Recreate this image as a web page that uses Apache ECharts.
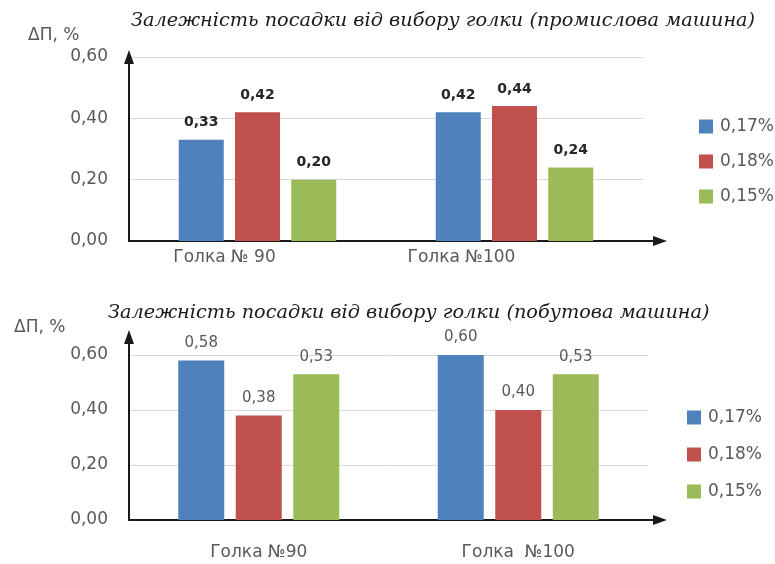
<!DOCTYPE html>
<html><head><meta charset="utf-8">
<script src="https://cdn.jsdelivr.net/npm/echarts@6/dist/echarts.min.js"></script>
<style>html,body{margin:0;padding:0;background:#fff}#c{width:775px;height:564px}</style>
</head><body><div id="c"></div>
<script>
const titleTop = 'Залежність посадки від вибору голки (промислова машина)';
const titleBottom = 'Залежність посадки від вибору голки (побутова машина)';
const yName = 'ΔП, %';
const categoriesTop = ['Голка № 90', 'Голка №100'];
const categoriesBottom = ['Голка №90', 'Голка  №100'];
const seriesNames = ['0,17%', '0,18%', '0,15%'];
const topS1 = [0.33, 0.42];
const topS2 = [0.42, 0.44];
const topS3 = [0.20, 0.24];
const botS1 = [0.58, 0.60];
const botS2 = [0.38, 0.40];
const botS3 = [0.53, 0.53];
const yMin = 0, yMax = 0.6, yStep = 0.2;

const colors = ['#4F81BD', '#C0504D', '#9BBB59'];
const gray = '#595959';
const font = 'DejaVu Sans';
const serif = 'DejaVu Serif';
const fmt = v => v.toFixed(2).replace('.', ',');

const chart = echarts.init(document.getElementById('c'), null, {renderer: 'canvas'});

function dataY(gi) {
  return {
    gridIndex: gi, type: 'value', min: yMin, max: yMax, interval: yStep,
    axisLine: {show: false}, axisTick: {show: false},
    splitLine: {lineStyle: {color: '#D9D9D9', width: 1}},
    axisLabel: {color: gray, fontSize: 17, fontFamily: font, margin: 21, formatter: fmt}
  };
}
function arrowAxis(gi) {
  return {
    gridIndex: gi, type: 'value', min: 0, max: 1,
    axisLine: {show: true, onZero: false, symbol: ['none', 'triangle'], symbolSize: [10, 14],
      lineStyle: {color: '#1a1a1a', width: 2}},
    axisTick: {show: false}, axisLabel: {show: false}, splitLine: {show: false}
  };
}
function barSeries(name, data, xi, yi, ci, labelStyle, bw) {
  return {
    name: name, type: 'bar', xAxisIndex: xi, yAxisIndex: yi, data: data,
    barWidth: bw, barGap: '25%',
    itemStyle: {color: colors[ci]},
    label: Object.assign({show: true, position: 'top', distance: 10, fontFamily: font,
      formatter: p => fmt(p.value)}, labelStyle)
  };
}

const topLabel = {color: '#262626', fontSize: 14, fontWeight: 'bold'};
const botLabel = {color: gray, fontSize: 15};
const titleStyle = {fontFamily: serif, fontStyle: 'italic', fontWeight: 'normal', fontSize: 19.3, color: '#1a1a1a'};
const legendText = {color: gray, fontSize: 17, fontFamily: font, padding: [0, 0, 0, 2]};

chart.setOption({
  animation: false,
  title: [
    {text: titleTop, left: 126, top: 6, textStyle: titleStyle},
    {text: titleBottom, left: 103, top: 298, textStyle: titleStyle},
    {text: yName, left: 23, top: 22, textStyle: {fontFamily: font, fontWeight: 'normal', fontSize: 17, color: gray}},
    {text: yName, left: 9, top: 314, textStyle: {fontFamily: font, fontWeight: 'normal', fontSize: 17, color: gray}}
  ],
  legend: [
    {data: seriesNames, orient: 'vertical', left: 694, top: 113, itemWidth: 14, itemHeight: 14, itemGap: 18,
      icon: 'rect', textStyle: legendText},
    {data: seriesNames, orient: 'vertical', left: 682, top: 404, itemWidth: 14, itemHeight: 14, itemGap: 20,
      icon: 'rect', textStyle: legendText}
  ],
  grid: [
    {left: 129, right: 132, top: 57, bottom: 323},
    {left: 129, right: 115, top: 57, bottom: 323},
    {left: 129, right: 127, top: 355, bottom: 44},
    {left: 129, right: 115, top: 337, bottom: 44}
  ],
  xAxis: [
    {gridIndex: 0, type: 'category', data: categoriesTop, axisLine: {show: false}, axisTick: {show: false},
      axisLabel: {margin: 8, interval: 0,
        formatter: (v, i) => (i === 0 ? '{a|' : '{b|') + v + '}',
        rich: {
          a: {color: gray, fontSize: 17, fontFamily: font, padding: [0, 66, 0, 0]},
          b: {color: gray, fontSize: 17, fontFamily: font, padding: [0, 106, 0, 0]}
        }}},
    arrowAxis(1),
    {gridIndex: 2, type: 'category', data: categoriesBottom, axisLine: {show: false}, axisTick: {show: false},
      axisLabel: {margin: 24, interval: 0, color: gray, fontSize: 17, fontFamily: font}},
    arrowAxis(3)
  ],
  yAxis: [
    dataY(0),
    arrowAxis(1),
    dataY(2),
    arrowAxis(3)
  ],
  series: [
    barSeries(seriesNames[0], topS1, 0, 0, 0, topLabel, 45),
    barSeries(seriesNames[1], topS2, 0, 0, 1, topLabel, 45),
    barSeries(seriesNames[2], topS3, 0, 0, 2, topLabel, 45),
    barSeries(seriesNames[0], botS1, 2, 2, 0, botLabel, 46),
    barSeries(seriesNames[1], botS2, 2, 2, 1, botLabel, 46),
    barSeries(seriesNames[2], botS3, 2, 2, 2, botLabel, 46)
  ]
});
</script></body></html>
